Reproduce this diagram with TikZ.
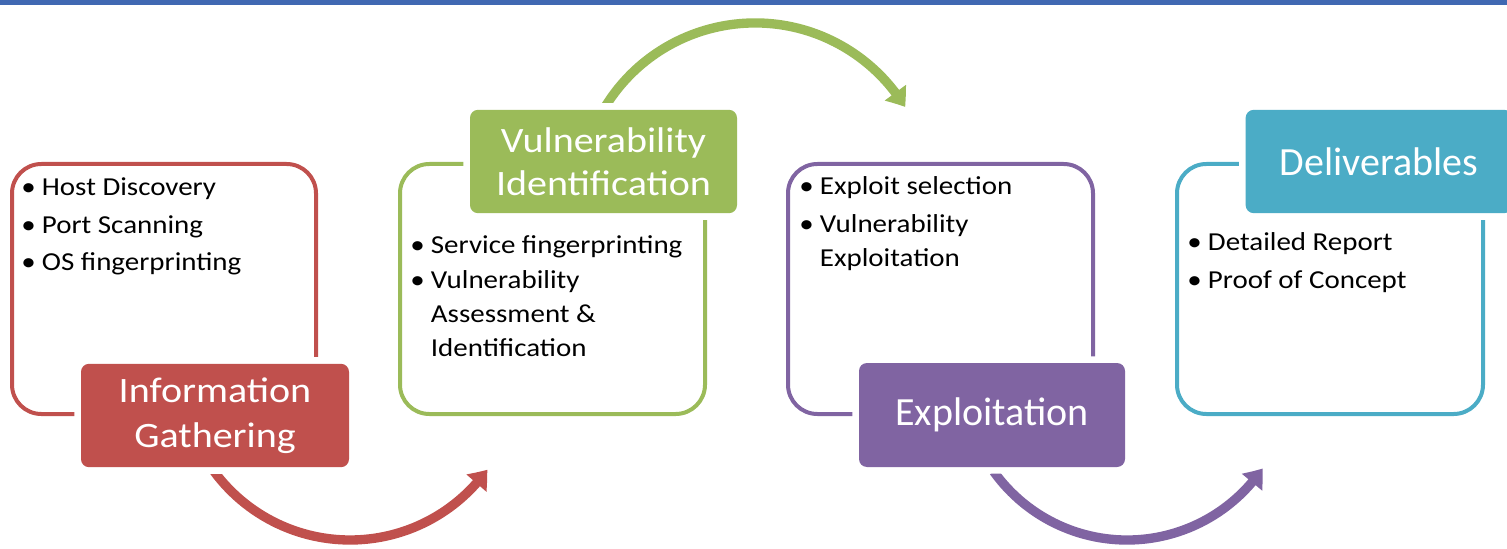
\documentclass[tikz,border=0pt]{standalone}
\usepackage{fontspec}
\setmainfont{Carlito}
\newfontfamily\wide{Carlito}[FakeStretch=1.12]
\usetikzlibrary{arrows.meta,bending}
\definecolor{cred}{HTML}{C0504D}
\definecolor{cgreen}{HTML}{9BBB59}
\definecolor{cpurple}{HTML}{8064A2}
\definecolor{caqua}{HTML}{4BACC6}
\definecolor{cbar}{HTML}{4068B2}
\newcommand\bl{\makebox[15.5pt][l]{\textbullet}}
\newcommand\ind{\hspace*{15.5pt}}
\begin{document}
\begin{tikzpicture}[x=0.75pt,y=-0.75pt,
  outline/.style={draw=#1, line width=3pt, rounded corners=22pt, inner sep=0pt},
  titlebox/.style={fill=#1, text=white, rounded corners=6pt,
    preaction={draw=white, line width=10pt},
    minimum width=200pt, minimum height=77.5pt, align=center, inner sep=0pt},
  body/.style={anchor=base west, inner sep=0pt, text=black,
    font=\wide\fontsize{19.4}{25.5}\selectfont},
  flow/.style={draw=#1, line width=7pt, -{Triangle[length=13pt,width=19pt,bend]}}
]
\useasboundingbox (0,0) rectangle (1507,549);
\clip (0,0) rectangle (1507,549);
\fill[cbar] (0,0) rectangle (1507,5);

% arrows
\coordinate (a1s) at (214,471.3);
\coordinate (a2s) at (605,107);
\coordinate (a3s) at (993.7,471.5);
\draw[flow=cred] (a1s) arc[start angle=143.6, end angle=35.7, radius=169];
\draw[flow=cgreen] (a2s) arc[start angle=-148.5, end angle=-31.5, radius=176];
\draw[flow=cpurple] (a3s) arc[start angle=144.4, end angle=34.3, radius=164];

% outline boxes
\node[outline=cred, minimum width=228pt, minimum height=187.5pt] (b1) at (164,289) {};
\node[outline=cgreen, minimum width=228.75pt, minimum height=187.5pt] (b2) at (552.5,289) {};
\node[outline=cpurple, minimum width=228.75pt, minimum height=187.5pt] (b3) at (940.5,289) {};
\node[outline=caqua, minimum width=229.5pt, minimum height=187.5pt] (b4) at (1330,289) {};

% title boxes
\node[titlebox=cred, minimum width=201pt, font=\wide\fontsize{26.8}{33.6}\selectfont] (t1) at (215,415.5) {Information\\Gathering};
\node[titlebox=cgreen, minimum width=200.25pt, font=\wide\fontsize{26.8}{32.3}\selectfont] (t2) at (603.5,161.5) {Vulnerability\\Identification};
\node[titlebox=cpurple, minimum width=199.5pt, minimum height=78pt, font=\fontsize{30}{36}\selectfont] (t3) at (992,415) {Exploitation};
\node[titlebox=caqua, minimum width=200pt, font=\fontsize{30}{36}\selectfont] (t4) at (1379,161.5) {Deliverables};

% body texts
\node[body] (x1) at (21,196) {\begin{tabular}[t]{@{}l@{}}
\bl Host Discovery\\[2.6pt]
\bl Port Scanning\\[2.6pt]
\bl OS fingerprinting
\end{tabular}};
\node[body] (x2) at (410,253) {\begin{tabular}[t]{@{}l@{}}
\bl Service fingerprinting\\[1pt]
\bl Vulnerability\\
\ind Assessment \&\\
\ind Identification
\end{tabular}};
\node[body] (x3) at (799,195) {\begin{tabular}[t]{@{}l@{}}
\bl Exploit selection\\[3pt]
\bl Vulnerability\\
\ind Exploitation
\end{tabular}};
\node[body] (x4) at (1187,250) {\begin{tabular}[t]{@{}l@{}}
\bl Detailed Report\\[3pt]
\bl Proof of Concept
\end{tabular}};
\end{tikzpicture}
\end{document}
